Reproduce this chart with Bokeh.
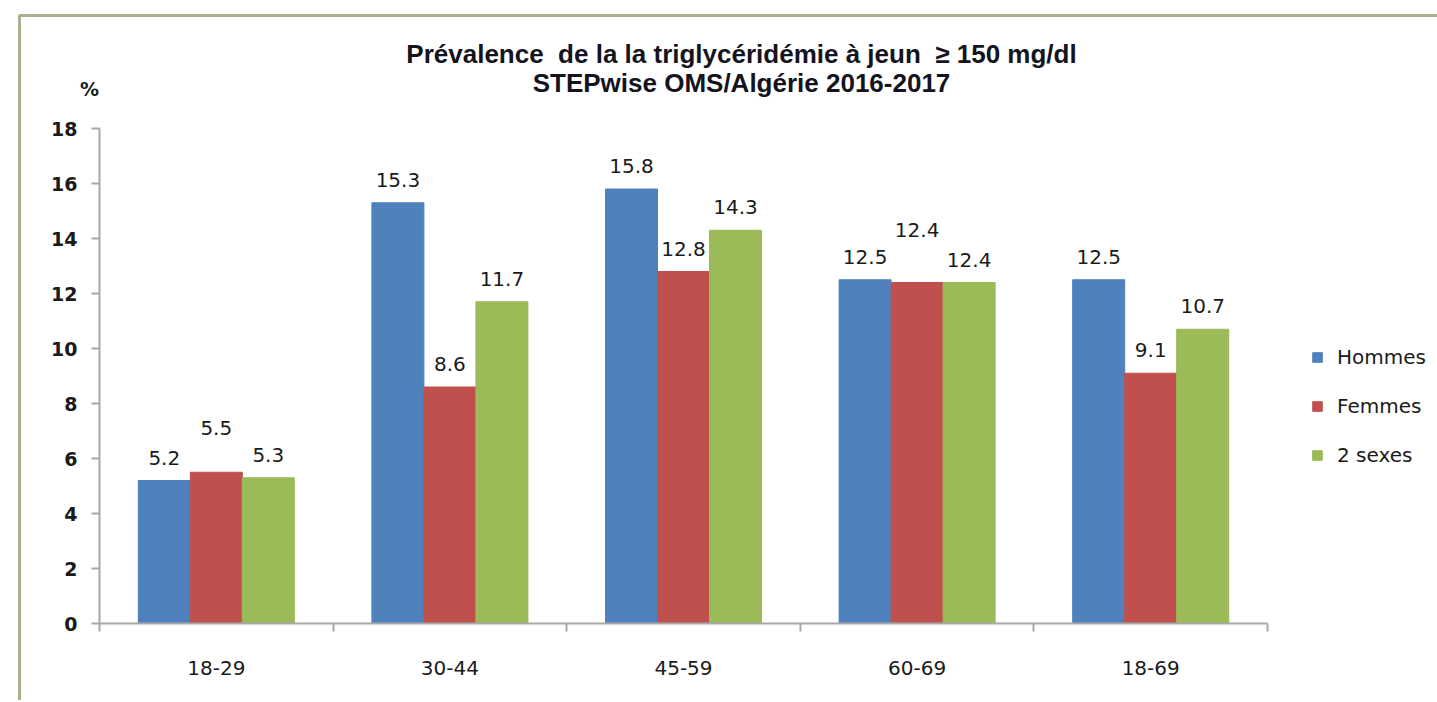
from bokeh.plotting import figure
from bokeh.models import (Range1d, FixedTicker, Legend, LegendItem, Label,
                          ColumnDataSource, BoxAnnotation)
from bokeh.embed import file_html
from bokeh.resources import INLINE

# ---- data ----
categories = ["18-29", "30-44", "45-59", "60-69", "18-69"]
series_names = ["Hommes", "Femmes", "2 sexes"]
hommes = [5.2, 15.3, 15.8, 12.5, 12.5]
femmes = [5.5, 8.6, 12.8, 12.4, 9.1]
deux_sexes = [5.3, 11.7, 14.3, 12.4, 10.7]
y_ticks = [0, 2, 4, 6, 8, 10, 12, 14, 16, 18]
title_line1 = "Prévalence\u00a0 de la la triglycéridémie à jeun\u00a0 ≥ 150 mg/dl"
title_line2 = "STEPwise OMS/Algérie 2016-2017"
y_unit = "%"

colors = ["#4F81BD", "#C0504D", "#9BBB59"]
series = [hommes, femmes, deux_sexes]

# ---- layout (pixels) ----
W, H = 1437, 700
PLOT_L, PLOT_R, PLOT_T, PLOT_B = 99, 1267, 128, 623
n = len(categories)
ymax = max(y_ticks)
px_x = (PLOT_R - PLOT_L) / n
px_y = (PLOT_B - PLOT_T) / ymax

x0 = 0.5 - PLOT_L / px_x
x1 = n + 0.5 + (W - PLOT_R) / px_x
y0 = -(H - PLOT_B) / px_y
y1 = ymax + PLOT_T / px_y

p = figure(width=W, height=H, output_backend="svg", toolbar_location=None,
           x_range=Range1d(x0, x1), y_range=Range1d(y0, y1),
           min_border=0, min_border_left=0, min_border_right=0,
           min_border_top=0, min_border_bottom=0)
p.outline_line_color = None
p.xgrid.visible = False
p.ygrid.visible = False
p.background_fill_color = "white"
p.border_fill_color = "white"

FONT = "DejaVu Sans"
AX_COLOR = "#A8A8A8"
TXT = "#1a1a1a"

# chart-area border (top and left edges visible)
p.add_layout(BoxAnnotation(left=19, top=H - 15, right=W + 100, bottom=-100,
                           left_units="screen", right_units="screen",
                           top_units="screen", bottom_units="screen",
                           fill_alpha=0, line_color="#A7B08F", line_width=3,
                           line_alpha=1, level="underlay"))

# x axis: labels at category centres, tick marks at category boundaries
centres = list(range(1, n + 1))
xa = p.xaxis[0]
xa.fixed_location = 0
xa.bounds = (0.5, n + 0.5)
xa.ticker = FixedTicker(ticks=centres,
                        minor_ticks=[c - 0.5 for c in centres] + [n + 0.5])
xa.major_label_overrides = {c: lab for c, lab in zip(centres, categories)}
xa.major_tick_line_color = None
xa.major_tick_out = 0
xa.major_tick_in = 0
xa.minor_tick_out = 8
xa.minor_tick_in = 0
xa.minor_tick_line_color = AX_COLOR
xa.minor_tick_line_width = 2
xa.axis_line_color = AX_COLOR
xa.axis_line_width = 2
xa.major_label_standoff = 29
xa.major_label_text_font = FONT
xa.major_label_text_font_size = "20px"
xa.major_label_text_color = TXT

ya = p.yaxis[0]
ya.fixed_location = 0.5
ya.bounds = (0, ymax)
ya.ticker = FixedTicker(ticks=y_ticks, minor_ticks=[])
ya.major_tick_out = 8
ya.major_tick_in = 0
ya.major_tick_line_color = AX_COLOR
ya.major_tick_line_width = 2
ya.axis_line_color = AX_COLOR
ya.axis_line_width = 2
ya.major_label_standoff = 14
ya.major_label_text_font = FONT
ya.major_label_text_font_style = "bold"
ya.major_label_text_font_size = "19px"
ya.major_label_text_color = TXT

# bars
bar_w = 0.2226
offsets = [-bar_w, 0.0, bar_w]
renderers = []
for k, (vals, col) in enumerate(zip(series, colors)):
    xs = [c + offsets[k] for c in centres]
    src = ColumnDataSource(dict(x=xs, top=vals))
    r = p.vbar(x="x", top="top", width=bar_w, bottom=0, source=src,
               fill_color=col, line_color=col, line_width=1)
    renderers.append(r)

# value labels (middle label lifted when both neighbours are close)
for k, (vals, col) in enumerate(zip(series, colors)):
    xs, ys, offs, texts = [], [], [], []
    for i, v in enumerate(vals):
        xs.append(centres[i] + offsets[k])
        texts.append(f"{v:.1f}")
        if k == 1 and abs(v - series[0][i]) < 1 and abs(v - series[2][i]) < 1:
            ys.append(max(series[0][i], series[2][i]))
            offs.append(-50)
        else:
            ys.append(v)
            offs.append(-23)
    src = ColumnDataSource(dict(x=xs, y=ys, t=texts, yo=offs))
    p.text(x="x", y="y", text="t", y_offset="yo", source=src,
           text_align="center", text_baseline="alphabetic",
           text_font_size="20px", text_color=TXT,
           text_font={"value": FONT})

# legend
legend = Legend(items=[LegendItem(label=nm, renderers=[r]) for nm, r in zip(series_names, renderers)],
                location=(1311, H - 467), orientation="vertical",
                glyph_width=12, glyph_height=12, label_standoff=14,
                label_height=24, spacing=25, padding=0, margin=0,
                border_line_color=None, background_fill_alpha=0,
                label_text_font=FONT, label_text_font_size="20px",
                label_text_color=TXT)
p.add_layout(legend, "center")

# titles and unit
for txt, base in [(title_line1, 53), (title_line2, 82)]:
    p.add_layout(Label(x=741, y=H - base, x_units="screen", y_units="screen", text=txt,
                       text_align="center", text_baseline="alphabetic",
                       text_font="Liberation Sans", text_font_style="bold",
                       text_font_size="26px", text_color="#141420"))
p.add_layout(Label(x=89, y=H - 88, x_units="screen", y_units="screen", text=y_unit,
                   text_align="center", text_baseline="alphabetic",
                   text_font=FONT, text_font_style="bold",
                   text_font_size="19px", text_color=TXT))

open("out.html", "w").write(file_html(p, INLINE))
